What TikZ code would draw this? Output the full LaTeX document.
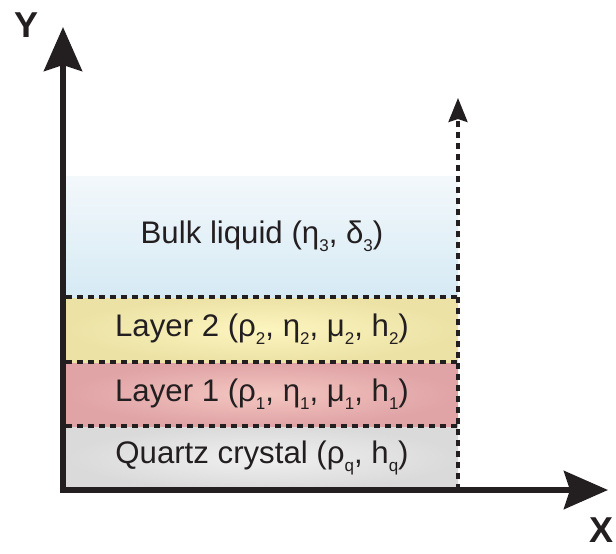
\documentclass[tikz,border=0pt]{standalone}
\usepackage{fontspec}
\setmainfont{Liberation Sans}
\usetikzlibrary{arrows.meta, positioning}
\definecolor{ink}{RGB}{35, 31, 32}
\definecolor{bulktop}{RGB}{243, 248, 251}
\definecolor{bulkbot}{RGB}{214, 234, 244}
\definecolor{ytwoin}{RGB}{252, 245, 190}
\definecolor{ytwoout}{RGB}{236, 226, 166}
\definecolor{yonein}{RGB}{243, 198, 192}
\definecolor{yoneout}{RGB}{224, 163, 166}
\definecolor{qzin}{RGB}{240, 240, 240}
\definecolor{qzout}{RGB}{218, 218, 218}
\newcommand\lowsub[1]{\raisebox{-0.5ex}{\fontsize{8.5}{9}\selectfont #1}}

\begin{document}
\begin{tikzpicture}[x=0.5pt, y=-0.5pt,
    layer/.style={minimum width=196pt, inner sep=0pt, outer sep=0pt, text=ink, font=\fontsize{15.6}{17}\selectfont},
    axis/.style={line width=3pt, ink, line join=miter, {Stealth[length=22pt, width=19pt, inset=3pt]}-{Stealth[length=22pt, width=19pt, inset=3pt]}},
    sep/.style={ink, line width=1.6pt, dash pattern=on 3pt off 2.5pt},
    lbl/.style={text=ink, font=\fontsize{18}{20}\selectfont\bfseries}
  ]
  \useasboundingbox (0,0) rectangle (616,553);
  % layers, bottom to top
  \node[layer, minimum height=32pt, anchor=south west, shading=radial, inner color=qzin, outer color=qzout] (quartz) at (66,490) {Quartz crystal (ρ\lowsub{q}, h\lowsub{q})};
  \node[layer, minimum height=32pt, above=0pt of quartz, shading=radial, inner color=yonein, outer color=yoneout] (layer1) {Layer 1 (ρ\lowsub{1}, η\lowsub{1}, μ\lowsub{1}, h\lowsub{1})};
  \node[layer, minimum height=32.5pt, above=0pt of layer1, shading=radial, inner color=ytwoin, outer color=ytwoout] (layer2) {Layer 2 (ρ\lowsub{2}, η\lowsub{2}, μ\lowsub{2}, h\lowsub{2})};
  \node[layer, minimum height=60.5pt, above=0pt of layer2, top color=bulktop, bottom color=bulkbot] (bulk) {Bulk liquid (η\lowsub{3}, δ\lowsub{3})};
  \draw[sep] (layer1.south west) -- (layer1.south east);
  \draw[sep] (layer2.south west) -- (layer2.south east);
  \draw[sep] (bulk.south west) -- (bulk.south east);
  \coordinate (dtop) at (458,98);
  \draw[sep, -{Stealth[length=12pt, width=9.5pt, inset=1.5pt]}] (quartz.south east) -- (dtop);
  % axes
  \coordinate (origin) at (63,490);
  \coordinate (yend) at (63,27);
  \coordinate (xend) at (608,490);
  \draw[axis] (yend) -- (origin) -- (xend);
  \node[lbl] (ylab) at (27,25) {Y};
  \node[lbl] (xlab) at (601,530) {X};
\end{tikzpicture}
\end{document}
